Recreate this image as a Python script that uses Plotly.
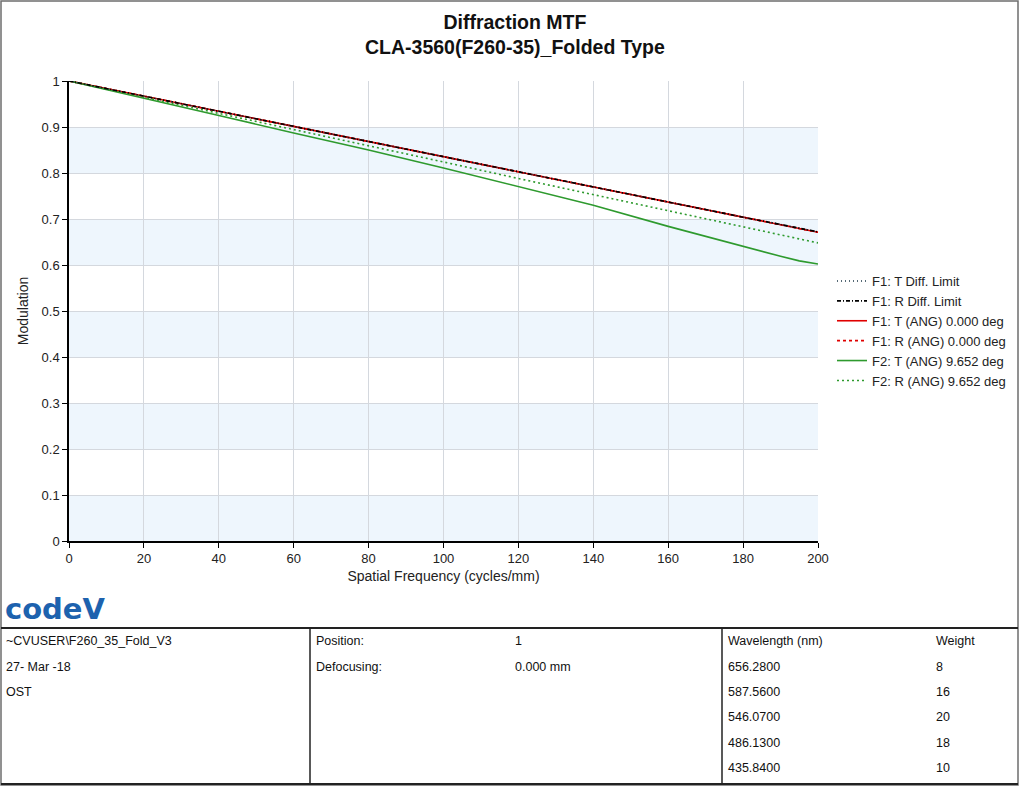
import plotly.graph_objects as go

W, H = 1019, 786
PL, PR, PT, PB = 69, 818, 81, 541  # plot area in pixels

freq = [0, 20, 40, 60, 80, 100, 120, 140, 160, 180, 200]
f2t_freq = [0, 20, 40, 60, 80, 100, 120, 140, 160, 180, 190, 195, 200]

diff_t = [1.0, 0.967, 0.934, 0.901, 0.868, 0.836, 0.803, 0.770, 0.737, 0.704, 0.672]
diff_r = [1.0, 0.967, 0.934, 0.901, 0.868, 0.836, 0.803, 0.770, 0.737, 0.704, 0.672]
f1_t = [1.0, 0.967, 0.934, 0.901, 0.868, 0.835, 0.802, 0.769, 0.736, 0.703, 0.671]
f1_r = [1.0, 0.967, 0.934, 0.901, 0.868, 0.835, 0.802, 0.769, 0.736, 0.703, 0.671]
f2_t = [1.0, 0.963, 0.925, 0.887, 0.850, 0.811, 0.771, 0.730, 0.684, 0.640, 0.619, 0.609, 0.602]
f2_r = [1.0, 0.965, 0.930, 0.894, 0.859, 0.824, 0.788, 0.753, 0.718, 0.683, 0.648]

x_ticks = [0, 20, 40, 60, 80, 100, 120, 140, 160, 180, 200]
y_ticks = [0, 0.1, 0.2, 0.3, 0.4, 0.5, 0.6, 0.7, 0.8, 0.9, 1.0]
band_starts = [0.0, 0.2, 0.4, 0.6, 0.8]

legend_names = ["F1: T Diff. Limit", "F1: R Diff. Limit", "F1: T (ANG) 0.000 deg",
                "F1: R (ANG) 0.000 deg", "F2: T (ANG) 9.652 deg", "F2: R (ANG) 9.652 deg"]

table_col1 = ["~CVUSER\\F260_35_Fold_V3", "27- Mar -18", "OST"]
table_col2 = ["Position:", "Defocusing:"]
table_col3 = ["1", "0.000 mm"]
wavelengths = ["Wavelength (nm)", "656.2800", "587.5600", "546.0700", "486.1300", "435.8400"]
weights = ["Weight", "8", "16", "20", "18", "10"]


def px(x):
    return (x - PL) / (PR - PL)


def py(y):
    return (PB - y) / (PB - PT)


FONT = "Liberation Sans, Arial, sans-serif"
fig = go.Figure()

# drawing order: aberrated curves first, diffraction limits on top
series = [
    (freq, f1_t, legend_names[2], dict(color="#E00000", width=1.6, dash="solid"), 3),
    (freq, f1_r, legend_names[3], dict(color="#E00000", width=1.6, dash="3px,3px"), 4),
    (f2t_freq, f2_t, legend_names[4], dict(color="#2E9A2E", width=1.6, dash="solid"), 5),
    (freq, f2_r, legend_names[5], dict(color="#2E9A2E", width=1.6, dash="2px,3px"), 6),
    (freq, diff_t, legend_names[0], dict(color="#1F3A4A", width=1.6, dash="1px,3px"), 1),
    (freq, diff_r, legend_names[1], dict(color="#000000", width=1.6, dash="4px,2px,1px,2px"), 2),
]
for xs, ys, name, line, rank in series:
    fig.add_trace(go.Scatter(x=xs, y=ys, mode="lines", name=name, line=line,
                             legendrank=rank, hoverinfo="skip"))

shapes = []
for b in band_starts:
    shapes.append(dict(type="rect", xref="x", yref="y", x0=x_ticks[0], x1=x_ticks[-1],
                       y0=b, y1=b + 0.1, fillcolor="#EEF6FD", line=dict(width=0),
                       layer="below"))

# outer frame
shapes.append(dict(type="rect", xref="paper", yref="paper", x0=px(1), x1=px(W - 1),
                   y0=py(H - 1), y1=py(1), line=dict(color="#6E6E6E", width=1.5)))
# table lines
shapes.append(dict(type="line", xref="paper", yref="paper", x0=px(1), x1=px(W - 1),
                   y0=py(628), y1=py(628), line=dict(color="#222222", width=2)))
shapes.append(dict(type="line", xref="paper", yref="paper", x0=px(1), x1=px(W - 1),
                   y0=py(784), y1=py(784), line=dict(color="#222222", width=2)))
for xv in (310, 722):
    shapes.append(dict(type="line", xref="paper", yref="paper", x0=px(xv), x1=px(xv),
                       y0=py(628), y1=py(784), line=dict(color="#222222", width=1.5)))

ann = []
ann.append(dict(text="<b>Diffraction MTF</b><br><b>CLA-3560(F260-35)_Folded Type</b>",
                xref="paper", yref="paper", x=px(515), y=py(34), showarrow=False,
                font=dict(family=FONT, size=19.5, color="#111111"), xanchor="center",
                yanchor="middle"))
ann.append(dict(text="<b>code</b><b>V</b>", xref="paper", yref="paper", x=px(3), y=py(609),
                showarrow=False, xanchor="left", yanchor="middle",
                font=dict(family="DejaVu Sans, sans-serif", size=29, color="#1D62AE")))

row_y = [641, 667, 692, 717, 743, 768]
tf = dict(family=FONT, size=12.5, color="#111111")


def cell(text, x, y):
    ann.append(dict(text=text, xref="paper", yref="paper", x=px(x), y=py(y),
                    showarrow=False, xanchor="left", yanchor="middle", font=tf))


for i, t in enumerate(table_col1):
    cell(t, 4, row_y[i])
for i, t in enumerate(table_col2):
    cell(t, 314, row_y[i])
for i, t in enumerate(table_col3):
    cell(t, 513, row_y[i])
for i, t in enumerate(wavelengths):
    cell(t, 726, row_y[i])
for i, t in enumerate(weights):
    cell(t, 934, row_y[i])

fig.update_layout(
    width=W, height=H, autosize=False,
    margin=dict(l=PL, r=W - PR, t=PT, b=H - PB, pad=0, autoexpand=False),
    paper_bgcolor="white", plot_bgcolor="white",
    font=dict(family=FONT, size=12, color="#222222"),
    showlegend=True,
    legend=dict(x=px(832), y=py(266), xanchor="left", yanchor="top",
                font=dict(family=FONT, size=13, color="#222222"),
                bgcolor="rgba(0,0,0,0)", itemwidth=30, tracegroupgap=0),
    shapes=shapes, annotations=ann,
    xaxis=dict(range=[0, 200], tickvals=x_ticks, showgrid=True, gridcolor="#D4D8DE",
               gridwidth=1, showline=True, linecolor="#000000", linewidth=1.5,
               ticks="outside", ticklen=5, tickcolor="#000000", zeroline=False,
               title=dict(text="Spatial Frequency (cycles/mm)", standoff=6,
                          font=dict(family=FONT, size=14)),
               tickfont=dict(family=FONT, size=13)),
    yaxis=dict(range=[0, 1], tickvals=y_ticks, showgrid=True, gridcolor="#D4D8DE",
               gridwidth=1, showline=True, linecolor="#000000", linewidth=1.5,
               ticks="outside", ticklen=5, tickcolor="#000000", zeroline=False,
               title=dict(text="Modulation", standoff=10,
                          font=dict(family=FONT, size=14)),
               tickfont=dict(family=FONT, size=13)),
)

post = ("document.body.style.margin='0';document.body.style.overflow='hidden';"
        "var gd=document.getElementById('{plot_id}');gd.style.width='1019px';"
        "gd.style.height='786px';Plotly.relayout(gd,{width:1019,height:786});")
fig.write_html("out.html", post_script=post,
               config={"responsive": False, "displayModeBar": False})
